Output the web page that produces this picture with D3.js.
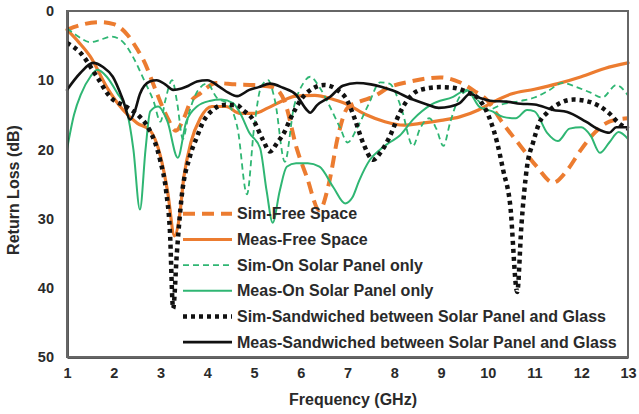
<html>
    <head>
        <title>Return Loss</title>
        <style>
            body { margin: 0; background: white; }
            text { font-family: "Liberation Sans", Arial, sans-serif; font-weight: bold; fill: #2a2a2a; }
        </style>
    </head>
    <body>
        <svg id="container" width="639" height="414" style="background:white">
            <g id="series"></g>
            <g id="legend"></g>
            <g id="xAxis"></g>
            <g id="yAxis"></g>
        </svg>
    </body>
    <script src="https://d3js.org/d3.v7.min.js"></script>
    <script>
        // [frequency GHz, return loss dB]
        let simFree = [[1.0,2.7],[1.3,2.0],[1.7,1.6],[2.0,1.9],[2.3,3.5],[2.5,5.5],[2.63,7],[2.9,11.5],[3.14,15.3],[3.33,17.3],[3.5,15.5],[3.63,13.3],[3.85,11.9],[4.2,10.4],[4.6,10.6],[5.0,10.7],[5.4,11],[5.65,13],[5.92,20],[6.13,24],[6.4,28.8],[6.6,25],[6.8,18],[7.0,14],[7.3,13],[7.55,12.4],[7.9,11],[8.34,10.2],[8.98,9.6],[9.4,10.3],[9.7,11.5],[10.0,13],[10.3,16],[10.7,19.5],[11.05,22.5],[11.4,24.8],[11.7,23],[12.0,20],[12.3,17.5],[12.6,16],[13.0,15.5]]
        let measFree = [[1.0,2.7],[1.25,4.5],[1.5,6.6],[1.85,11],[2.2,14.3],[2.5,16.2],[2.77,17.2],[3.0,21],[3.15,26],[3.3,32.5],[3.4,30],[3.5,24],[3.65,19],[3.85,15.5],[4.1,13.8],[4.4,13.8],[4.7,14.8],[5.0,14.8],[5.3,14],[5.6,13],[5.9,12.3],[6.3,12.2],[6.7,12.8],[7.0,13.5],[7.4,15],[7.8,16],[8.2,16.5],[8.6,16.2],[9.0,15.8],[9.4,15.3],[9.8,14.3],[10.1,13.2],[10.5,12],[11.0,11.3],[11.5,10.5],[12.0,9.5],[12.5,8.3],[13.0,7.5]]
        let simOn = [[1.0,2.5],[1.2,3.5],[1.5,4.5],[1.7,4.2],[1.95,3.7],[2.2,4.5],[2.4,6.5],[2.65,10],[2.85,13],[3.0,16],[3.1,13],[3.25,10],[3.35,13],[3.48,18.5],[3.6,15],[3.8,11.5],[4.0,10.5],[4.2,12.5],[4.45,13.5],[4.65,17],[4.85,26.5],[5.0,17],[5.15,11],[5.3,10],[5.45,13],[5.66,21.8],[5.85,14],[6.05,10.5],[6.2,9.5],[6.4,11],[6.6,13.5],[6.85,17],[7.0,19],[7.2,17],[7.45,13.5],[7.7,10.3],[7.9,10.5],[8.15,14],[8.4,19.5],[8.55,17],[8.75,15.5],[8.9,17],[9.05,19.5],[9.2,16],[9.4,12.4],[9.6,11.5],[9.8,13],[10.0,14.3],[10.3,13.5],[10.7,13],[11.0,12.5],[11.3,11.5],[11.6,10.4],[11.9,11],[12.2,11.8],[12.45,12.5],[12.75,10.7],[13.0,12.2]]
        let measOn = [[1.0,20],[1.15,15],[1.3,12],[1.5,9.5],[1.65,8.5],[1.85,9.5],[2.07,11.8],[2.28,14.5],[2.42,20],[2.56,28.7],[2.68,20],[2.78,14.5],[2.95,13.8],[3.15,16],[3.37,21.2],[3.55,16],[3.78,13.8],[4.05,13],[4.3,12.8],[4.55,13.3],[4.7,14.7],[4.9,17.6],[5.13,19.8],[5.27,26],[5.4,30.6],[5.55,26],[5.7,22.5],[5.9,22],[6.15,22],[6.4,22.5],[6.7,25.5],[6.95,27.8],[7.1,27],[7.25,24.5],[7.48,21.5],[7.7,20],[7.9,19],[8.12,18],[8.4,15.7],[8.8,13.5],[9.26,12.4],[9.55,11.4],[9.83,13.9],[10.1,14.5],[10.33,15.3],[10.6,15.5],[10.84,14.3],[11.0,14.5],[11.27,17.6],[11.5,18.8],[11.75,17],[12.0,16.8],[12.2,18],[12.4,20.5],[12.6,19],[12.8,17.5],[13.0,18.5]]
        let simSand = [[1.0,4.6],[1.28,6],[1.64,9.5],[1.92,12.4],[2.28,13.9],[2.56,15.3],[2.75,17],[2.99,21.5],[3.12,26],[3.2,31.6],[3.27,43],[3.35,35],[3.45,27],[3.63,21],[3.78,18.2],[3.9,16.2],[4.12,14.3],[4.34,13.6],[4.64,13.6],[4.76,14.3],[4.98,15.7],[5.19,18.6],[5.34,20.3],[5.5,19],[5.65,17.5],[5.77,15.7],[6.05,12.4],[6.26,11.2],[6.5,10.7],[6.78,11.4],[7.0,13],[7.15,15.5],[7.33,19],[7.55,21.5],[7.7,20.5],[7.9,18.2],[8.12,14.7],[8.34,12.4],[8.55,11.4],[8.98,11],[9.26,11.1],[9.55,11.7],[9.83,12.9],[10.05,15.7],[10.2,19],[10.33,23],[10.48,28],[10.63,40.6],[10.72,31],[10.84,22.5],[10.97,19],[11.1,16.2],[11.27,14.7],[11.55,13.3],[11.83,12.8],[12.1,13],[12.4,13.8],[12.6,14.8],[12.8,16.2],[13.0,17]]
        let measSand = [[1.0,11.4],[1.28,9],[1.56,7.5],[1.77,8.1],[1.98,9.5],[2.2,12.9],[2.35,15.7],[2.45,14.5],[2.56,12],[2.77,10.2],[2.92,10],[3.1,10.6],[3.27,11.4],[3.45,11.2],[3.6,10.8],[3.78,10.2],[4.0,10],[4.27,11],[4.45,11.8],[4.64,12.3],[4.9,11.4],[5.1,11],[5.34,10.5],[5.62,11.1],[5.9,12.1],[6.13,14.3],[6.2,14.7],[6.35,13.6],[6.63,12.4],[6.9,10.8],[7.2,10.4],[7.5,10.6],[7.97,11.5],[8.4,12.8],[8.7,13.5],[8.95,14],[9.2,13.8],[9.4,13.3],[9.62,12],[9.85,12.6],[10.1,13],[10.4,13.1],[10.7,13.4],[11.0,13.5],[11.4,14.3],[11.7,14.6],[12.1,16],[12.4,17.2],[12.6,17.6],[12.75,16.8],[13.0,16.8]]

        let names = ["Sim-Free Space", "Meas-Free Space", "Sim-On Solar Panel only", "Meas-On Solar Panel only",
                     "Sim-Sandwiched between Solar Panel and Glass", "Meas-Sandwiched between Solar Panel and Glass"]
        let xTicks = [1,2,3,4,5,6,7,8,9,10,11,12,13]
        let yTicks = [0,10,20,30,40,50]

        let orange = "#ec7c30"
        let green = "#2fb673"
        let styles = [
            {data: simFree, color: orange, width: 4, dash: "12,7", cap: "butt"},
            {data: measFree, color: orange, width: 3.2, dash: null, cap: "round"},
            {data: simOn, color: green, width: 1.8, dash: "6,4", cap: "butt"},
            {data: measOn, color: green, width: 2, dash: null, cap: "round"},
            {data: simSand, color: "#111", width: 4.5, dash: "4,4", cap: "butt"},
            {data: measSand, color: "#111", width: 2.6, dash: null, cap: "round"}
        ]

        let container = d3.select("#container")
        let x = d3.scaleLinear().domain([1, 13]).range([67, 628])
        let y = d3.scaleLinear().domain([0, 50]).range([11, 357])

        let line = d3.line()
                     .x(d => x(d[0]))
                     .y(d => y(d[1]))
                     .curve(d3.curveMonotoneX)

        d3.select("#series").selectAll("path")
            .data(styles)
            .join("path")
            .attr("d", d => line(d.data))
            .style("fill", "none")
            .style("stroke", d => d.color)
            .style("stroke-width", d => d.width)
            .style("stroke-dasharray", d => d.dash)
            .style("stroke-linecap", d => d.cap)
            .style("stroke-linejoin", "round")

        // legend sits inside the plot, no box
        let legendRows = d3.scaleBand().domain(names).range([201, 355])
        let legend = d3.select("#legend").selectAll("g")
            .data(styles)
            .join("g")
            .attr("transform", (d, i) => "translate(0," + (legendRows(names[i]) + legendRows.bandwidth() / 2) + ")")
        legend.append("line")
            .attr("x1", 183).attr("x2", 232)
            .style("stroke", d => d.color)
            .style("stroke-width", d => d.width)
            .style("stroke-dasharray", d => d.dash)
        legend.append("text")
            .attr("x", 237)
            .attr("dy", "0.35em")
            .style("font-size", "16px")
            .text((d, i) => names[i])

        // frame
        container.append("rect")
            .attr("x", x(1)).attr("y", y(0))
            .attr("width", x(13) - x(1)).attr("height", y(50) - y(0))
            .style("fill", "none").style("stroke", "#666").style("stroke-width", 2)

        let xAxis = d3.axisBottom(x).tickValues(xTicks).tickSize(0).tickPadding(11).tickFormat(d3.format("d"))
        d3.select("#xAxis").attr("transform", "translate(0," + y(50) + ")").call(xAxis)
        let yAxis = d3.axisLeft(y).tickValues(yTicks).tickSize(0).tickPadding(13)
        d3.select("#yAxis").attr("transform", "translate(" + x(1) + ",0)").call(yAxis)
        container.selectAll(".domain").style("stroke", "#222").style("stroke-width", 2.5)
        container.selectAll(".tick text").style("font-size", "14.5px").style("fill", "#2a2a2a")
        container.selectAll("#xAxis, #yAxis").attr("font-family", null)

        container.append("text")
            .attr("x", 353).attr("y", 405)
            .attr("text-anchor", "middle")
            .style("font-size", "16px")
            .text("Frequency (GHz)")
        container.append("text")
            .attr("transform", "translate(19,190) rotate(-90)")
            .attr("text-anchor", "middle")
            .style("font-size", "16px")
            .text("Return Loss (dB)")
    </script>
</html>
